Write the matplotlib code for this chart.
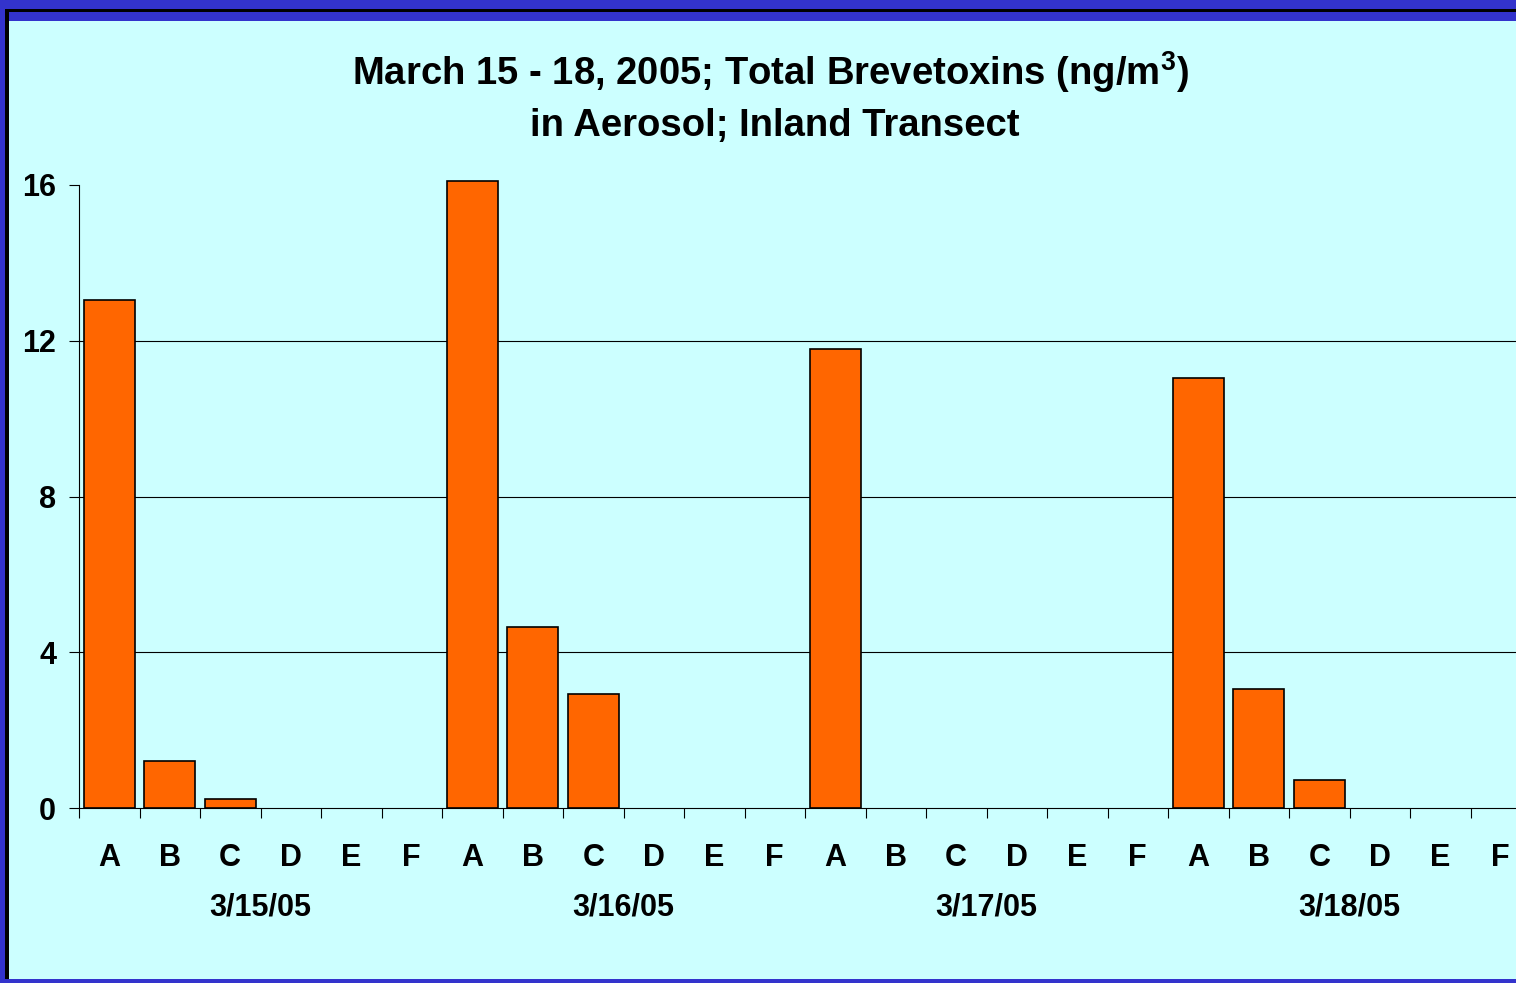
import matplotlib.pyplot as plt
import numpy as np
from matplotlib.patches import Rectangle

plt.rcParams["font.family"] = ["Liberation Sans", "DejaVu Sans"]
plt.rcParams["font.weight"] = "bold"
plt.rcParams["mathtext.fontset"] = "custom"
plt.rcParams["mathtext.bf"] = "Liberation Sans:bold"
plt.rcParams["mathtext.rm"] = "Liberation Sans:bold"

dates = ["3/15/05", "3/16/05", "3/17/05", "3/18/05"]
sites = ["A", "B", "C", "D", "E", "F"]
toxin_0315 = [13.05, 1.21, 0.23, 0, 0, 0]
toxin_0316 = [16.1, 4.65, 2.93, 0, 0, 0]
toxin_0317 = [11.79, 0, 0, 0, 0, 0]
toxin_0318 = [11.04, 3.06, 0.72, 0, 0, 0]
y_ticks = [0, 4, 8, 12, 16]

values = np.array(toxin_0315 + toxin_0316 + toxin_0317 + toxin_0318)
labels = sites * len(dates)
n = len(values)
x = np.arange(n)

W, H = 1516, 983
fig = plt.figure(figsize=(W / 100, H / 100), dpi=100, facecolor="#3333cc")

# panel background with dark frame edge
fig.patches.append(Rectangle((9 / W, 0), 1, (H - 21) / H, transform=fig.transFigure,
                             facecolor="#ccffff", edgecolor="none", zorder=-10))
fig.patches.append(Rectangle((5 / W, (H - 12) / H), 1, 3 / H, transform=fig.transFigure,
                             facecolor="black", edgecolor="none", zorder=-10))
fig.patches.append(Rectangle((5 / W, 0), 4 / W, (H - 9) / H, transform=fig.transFigure,
                             facecolor="black", edgecolor="none", zorder=-10))
fig.patches.append(Rectangle((0, 0), 1, 4 / H, transform=fig.transFigure,
                             facecolor="#3333cc", edgecolor="none", zorder=-9))

ax = fig.add_axes([79 / W, (H - 808) / H, (1531 - 79) / W, (808 - 185) / H])
ax.set_facecolor("none")

for yv in y_ticks[1:-1]:
    ax.axhline(yv, color="black", lw=0.8, zorder=1)

bars = ax.bar(x, values, width=0.84, color="#ff6600", edgecolor="black", linewidth=1.2,
              zorder=3, clip_on=False)
for b, v in zip(bars, values):
    if v == 0:
        b.set_visible(False)

ax.set_xlim(-0.5, n - 0.5)
ax.set_ylim(0, 16)
ax.set_yticks(y_ticks)
ax.set_yticklabels([str(v) for v in y_ticks], fontsize=22, fontweight="bold")
ax.tick_params(axis="y", direction="out", length=7.5, width=0.8, pad=9)

ax.set_xticks(np.arange(n + 1) - 0.5)
ax.set_xticklabels([])
ax.tick_params(axis="x", which="major", direction="out", length=7.5, width=0.8)
ax.set_xticks(x, minor=True)
ax.set_xticklabels(labels, minor=True, fontsize=22, fontweight="bold")
ax.tick_params(axis="x", which="minor", length=0, pad=25)

for spine in ["top", "right"]:
    ax.spines[spine].set_visible(False)
for spine in ["left", "bottom"]:
    ax.spines[spine].set_linewidth(0.8)

trans = ax.get_xaxis_transform()
for i, d in enumerate(dates):
    center = i * len(sites) + (len(sites) - 1) / 2
    ax.text(center, -0.16, d, transform=trans, ha="center", va="center",
            fontsize=22, fontweight="bold")

fig.text(770 / W, 1 - 72 / H, "March 15 - 18, 2005; Total Brevetoxins (ng/m$^{\\mathbf{3}}$)",
         ha="center", va="center", fontsize=27.5, fontweight="bold")
fig.text(775 / W, 1 - 126 / H, "in Aerosol; Inland Transect",
         ha="center", va="center", fontsize=27.5, fontweight="bold")

fig.savefig("out.png", dpi=100, facecolor=fig.get_facecolor())
